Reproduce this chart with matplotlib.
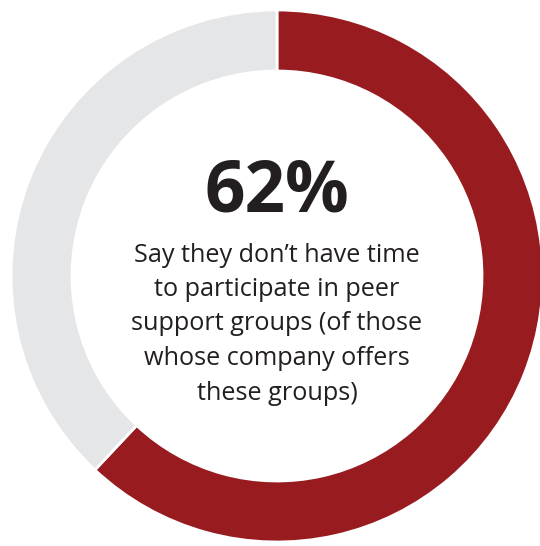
import matplotlib
matplotlib.use("Agg")
import matplotlib.pyplot as plt

# share of respondents
labels = ["No time", "Other"]
values = [62, 38]
colors = ["#981B20", "#E5E6E8"]

headline = "62%"
caption = ("Say they don\u2019t have time\nto participate in peer\n"
           "support groups (of those\nwhose company offers\nthese groups)")

W, H = 540, 546
fig = plt.figure(figsize=(W / 100, H / 100), dpi=100)
ax = fig.add_axes([0, 0, 1, 1])

cx, cy = 277, H - 276
ax.pie(values, colors=colors, radius=266, center=(cx, cy),
       startangle=90, counterclock=False,
       wedgeprops=dict(width=61, edgecolor="white", linewidth=2))

ax.set_xlim(0, W)
ax.set_ylim(0, H)
ax.set_aspect("auto")
ax.axis("off")

ax.text(cx, H - 192, headline, ha="center", va="center",
        fontsize=51, fontweight="bold", family="Open Sans", color="#231F20")
ax.text(cx, H - 324, caption, ha="center", va="center",
        fontsize=18.2, family="Open Sans", color="#231F20", linespacing=1.5)

fig.savefig("out.png", dpi=100)
